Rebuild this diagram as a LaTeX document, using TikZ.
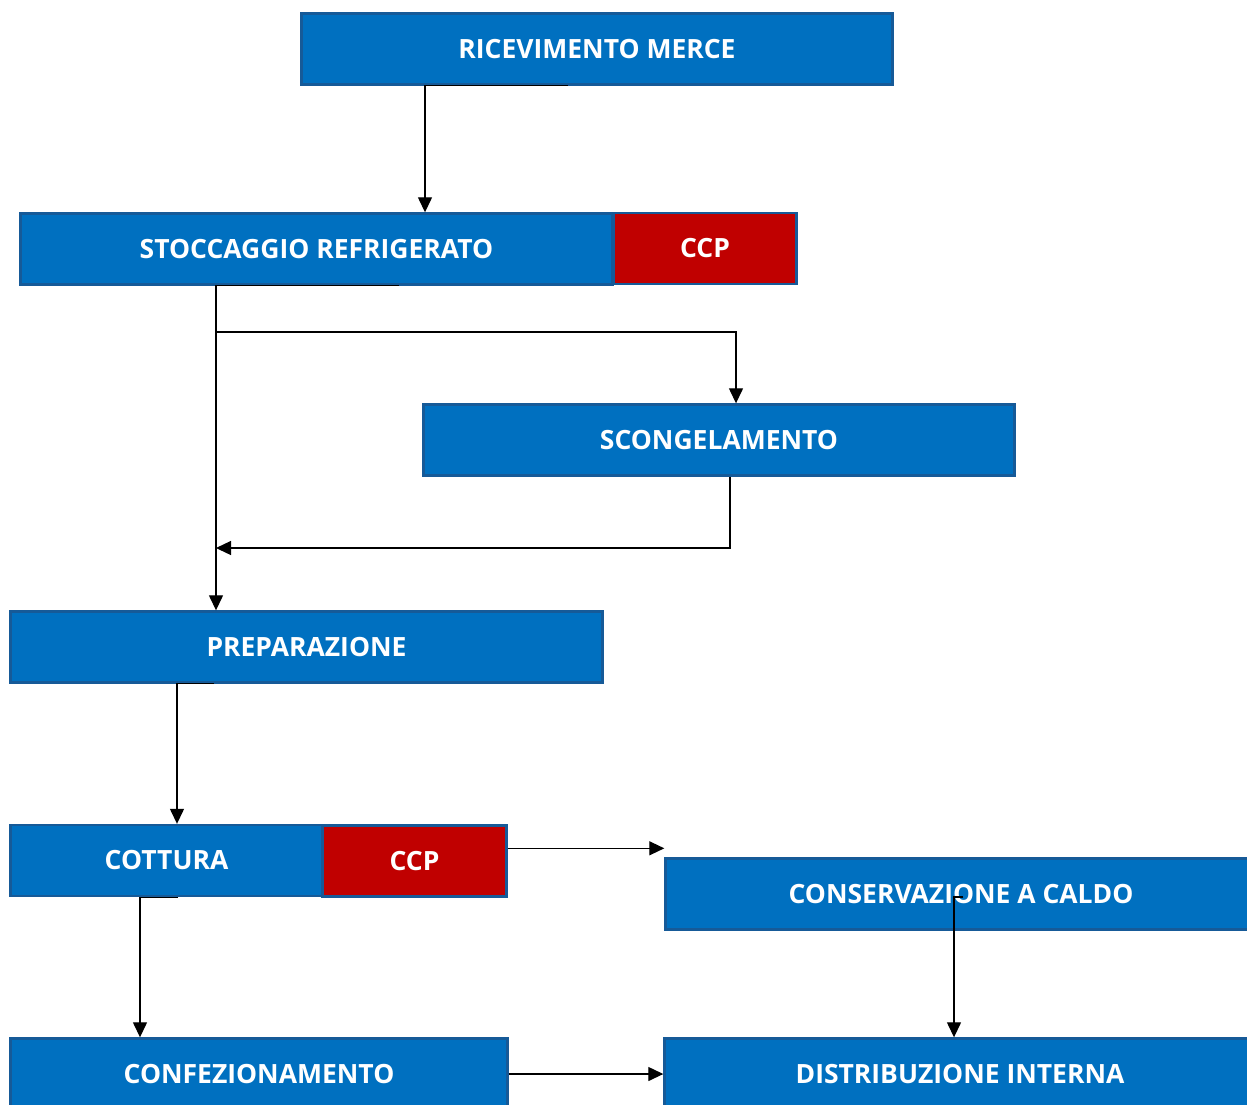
\documentclass[tikz,border=0pt]{standalone}
\usepackage{fontspec}
\setmainfont{Open Sans}
\usepackage{tikz}
\usetikzlibrary{arrows.meta,calc}
\definecolor{blu}{HTML}{0070C0}
\definecolor{blubd}{HTML}{165A98}
\definecolor{rosso}{HTML}{C00000}

\begin{document}
\begin{tikzpicture}
 [x=1pt,y=-1pt,
  b/.style={rectangle,draw=blubd,line width=2.4pt,fill=blu,text=white,inner sep=0pt,
    font=\fontsize{26.5}{30}\selectfont\bfseries,minimum height=71pt},
  r/.style={b,fill=rosso},
  l/.style={line width=1.3pt},
  >={Triangle[length=15pt,width=14pt]}]
 \useasboundingbox (0,0) rectangle (1247,1104);
 \node[b,minimum width=591pt] (rm) at (597,49) {RICEVIMENTO MERCE};
 \node[b,minimum width=592pt] (sr) at (316.5,249) {STOCCAGGIO REFRIGERATO};
 \node[r,minimum width=183pt] (ccpa) at (705,248.5) {CCP};
 \node[b,minimum width=591pt] (sc) at (719,440) {SCONGELAMENTO};
 \node[b,minimum width=592pt] (pr) at (306.5,647) {PREPARAZIONE};
 \node[b,minimum width=312pt] (co) at (166.5,860.5) {COTTURA};
 \node[r,minimum width=184pt] (ccpb) at (414.5,861) {CCP};
 \node[b,minimum width=591pt] (cc) at (961,894) {CONSERVAZIONE A CALDO};
 \node[b,minimum width=497pt] (cf) at (259,1074) {CONFEZIONAMENTO};
 \node[b,minimum width=591pt] (di) at (960,1074) {DISTRIBUZIONE INTERNA};
 \coordinate (j1) at (216,332);
 \coordinate (j2) at (216,548);
 \draw[->,l] ($(rm.south)+(-29,0)$) -| ($(sr.north)+(108.5,0)$);
 \draw[->,l] ($(sr.south)+(82.5,0)$) -| ($(pr.north)+(-90.5,0)$);
 \draw[->,l] (j1) -| ($(sc.north)+(17,0)$);
 \draw[->,l] ($(sc.south)+(11,0)$) |- (j2);
 \draw[->,l] ($(pr.south)+(-92.5,0)$) -| ($(co.north)+(10.5,0)$);
 \draw[->,l] ($(co.south)+(11.5,0)$) -| ($(cf.north)+(-119,0)$);
 \draw[->,l] ($(ccpb.north east)+(0,24)$) -- ($(cc.north west)+(0,-9)$);
 \draw[->,l] ($(cc.center)+(2,3)$) -| ($(di.north)+(-6,0)$);
 \draw[->,l] (cf.east) -- (di.west);
\end{tikzpicture}
\end{document}
